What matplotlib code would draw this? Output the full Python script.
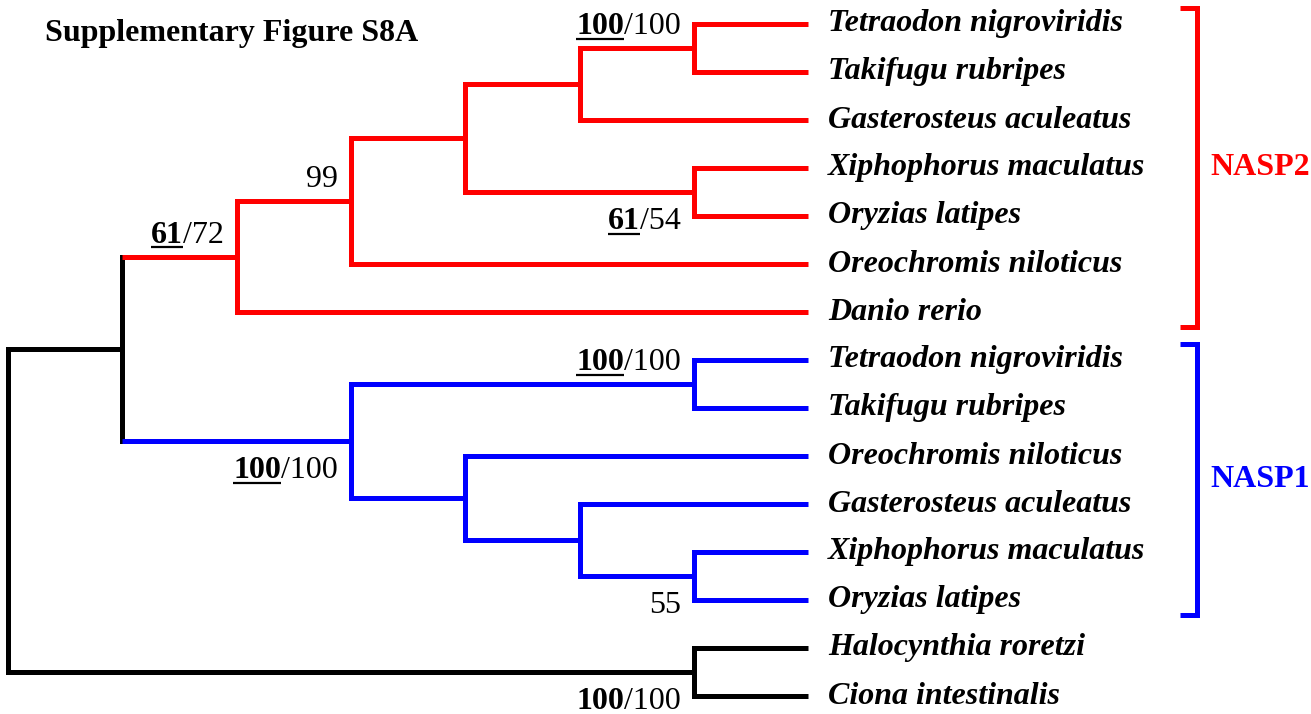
import matplotlib
matplotlib.use("Agg")
import matplotlib.pyplot as plt

# leaf names top to bottom
leaves = ["Tetraodon nigroviridis", "Takifugu rubripes", "Gasterosteus aculeatus",
          "Xiphophorus maculatus", "Oryzias latipes", "Oreochromis niloticus",
          "Danio rerio",
          "Tetraodon nigroviridis", "Takifugu rubripes", "Oreochromis niloticus",
          "Gasterosteus aculeatus", "Xiphophorus maculatus", "Oryzias latipes",
          "Halocynthia roretzi", "Ciona intestinalis"]

# topology, leaves by index
tree = (((((((0, 1), 2), (3, 4)), 5), 6), ((7, 8), (9, (10, (11, 12))))), (13, 14))

# clade colours by leaf span
groups = [("NASP2", 0, 6, "#ff0000"), ("NASP1", 7, 12, "#0000ff")]

# support values: (first leaf, last leaf) -> (bold part, plain part, underline, side)
support = {
    (0, 1): ("100", "/100", True, "above"),
    (3, 4): ("61", "/54", True, "below"),
    (0, 5): ("", "99", False, "above"),
    (0, 6): ("61", "/72", True, "above"),
    (7, 8): ("100", "/100", True, "above"),
    (7, 12): ("100", "/100", True, "below"),
    (11, 12): ("", "55", False, "below"),
    (13, 14): ("100", "/100", False, "below"),
}

W, H = 1311, 714
fig = plt.figure(figsize=(W / 100, H / 100), dpi=100)
ax = fig.add_axes([0, 0, 1, 1])
ax.axis("off")

step = 114.3  # px per rank
ax.set_xlim(-8 / step, (W - 8) / step)
ax.set_ylim((H - 24) / 48, -24 / 48)

serif = "Liberation Serif"
fs = 23
lw = 3.6
ntips = 7


def colour_of(lo, hi):
    for name, a, b, c in groups:
        if a <= lo and hi <= b:
            return c
    return "black"


def height(n):
    if isinstance(n, int):
        return 0
    return 1 + max(height(c) for c in n)


def span(n):
    if isinstance(n, int):
        return n, n
    a = span(n[0])
    b = span(n[1])
    return a[0], b[1]


nodes = []


def layout(n):
    if isinstance(n, int):
        return ntips, float(n)
    x = ntips - height(n)
    kids = [layout(c) for c in n]
    y = (kids[0][1] + kids[1][1]) / 2
    lo, hi = span(n)
    col = colour_of(lo, hi)
    ax.plot([x, x], [kids[0][1], kids[1][1]], color=col, lw=lw,
            solid_capstyle="projecting")
    for c, (cx, cy) in zip(n, kids):
        clo, chi = span(c)
        ax.plot([x, cx], [cy, cy], color=colour_of(clo, chi), lw=lw,
                solid_capstyle="butt")
    nodes.append((lo, hi, x, y))
    return x, y


layout(tree)

for i, name in enumerate(leaves):
    ax.text(ntips + 20 / step, i, name, fontsize=fs, fontfamily=serif,
            fontweight="bold", fontstyle="italic", va="center", ha="left")

fig.canvas.draw()
rend = fig.canvas.get_renderer()
inv = ax.transData.inverted()

for lo, hi, x, y in nodes:
    if (lo, hi) not in support:
        continue
    bold, plain, ul, side = support[(lo, hi)]
    dy = -0.29 if side == "above" else 0.78
    xr = x - 13 / step
    t = ax.text(xr, y + dy, plain, fontsize=fs, fontfamily=serif,
                va="baseline", ha="right")
    if bold:
        bb = t.get_window_extent(rend)
        x0 = inv.transform((bb.x0, bb.y0))[0]
        tb = ax.text(x0, y + dy, bold, fontsize=fs, fontfamily=serif,
                     fontweight="bold", va="baseline", ha="right")
        if ul:
            b2 = tb.get_window_extent(rend)
            a0 = inv.transform((b2.x0, 0))[0]
            a1 = inv.transform((b2.x1, 0))[0]
            ax.plot([a0, a1], [y + dy + 0.1, y + dy + 0.1], color="black",
                    lw=1.6, solid_capstyle="butt")

# brackets
bx = 1197 / step - 8 / step
for name, a, b, c in groups:
    y0, y1 = a - 0.33, b + 0.32
    ax.plot([bx - 17 / step, bx, bx, bx - 17 / step], [y0, y0, y1, y1],
            color=c, lw=lw, solid_joinstyle="miter", solid_capstyle="butt")
    ax.text(bx + 13 / step, (y0 + y1) / 2, name, color=c, fontsize=fs,
            fontfamily=serif, fontweight="bold", va="center", ha="left")

fig.text(45 / W, 1 - 33 / H, "Supplementary Figure S8A", fontsize=fs,
         fontfamily=serif, fontweight="bold", va="center", ha="left")

fig.savefig("out.png", dpi=100)
